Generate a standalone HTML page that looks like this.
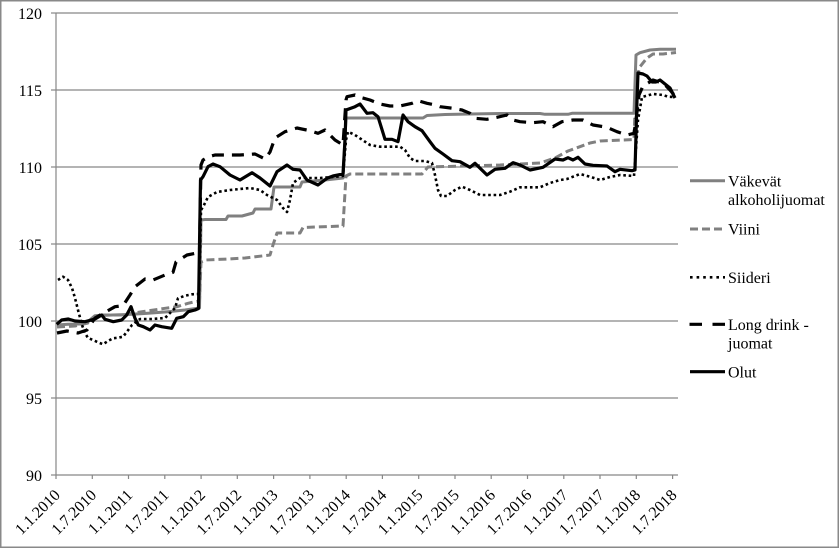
<!DOCTYPE html>
<html><head><meta charset="utf-8"><style>
html,body{margin:0;padding:0;background:#fff;}
svg{display:block;}
text{font-family:"Liberation Serif","Times New Roman",serif;font-size:16px;fill:#000;}
</style></head><body>
<svg width="840" height="549" viewBox="0 0 840 549" xmlns="http://www.w3.org/2000/svg">
<rect x="0" y="0" width="840" height="549" fill="#fff"/>
<rect x="0.75" y="0.75" width="837.5" height="546.5" fill="none" stroke="#898989" stroke-width="1.5"/>
<!-- grid -->
<g stroke="#878787" stroke-width="1.2" fill="none">
<line x1="56" y1="13" x2="678" y2="13"/>
<line x1="56" y1="90" x2="678" y2="90"/>
<line x1="56" y1="167" x2="678" y2="167"/>
<line x1="56" y1="244" x2="678" y2="244"/>
<line x1="56" y1="321" x2="678" y2="321"/>
<line x1="56" y1="398" x2="678" y2="398"/>
<line x1="56" y1="475" x2="678" y2="475"/>
<line x1="56" y1="13" x2="56" y2="475"/>
<line x1="51" y1="13" x2="56" y2="13"/>
<line x1="51" y1="90" x2="56" y2="90"/>
<line x1="51" y1="167" x2="56" y2="167"/>
<line x1="51" y1="244" x2="56" y2="244"/>
<line x1="51" y1="321" x2="56" y2="321"/>
<line x1="51" y1="398" x2="56" y2="398"/>
<line x1="51" y1="475" x2="56" y2="475"/>
<line x1="56" y1="475" x2="56" y2="479"/>
<line x1="92.3" y1="475" x2="92.3" y2="479"/>
<line x1="128.5" y1="475" x2="128.5" y2="479"/>
<line x1="164.8" y1="475" x2="164.8" y2="479"/>
<line x1="201.1" y1="475" x2="201.1" y2="479"/>
<line x1="237.3" y1="475" x2="237.3" y2="479"/>
<line x1="273.6" y1="475" x2="273.6" y2="479"/>
<line x1="309.9" y1="475" x2="309.9" y2="479"/>
<line x1="346.2" y1="475" x2="346.2" y2="479"/>
<line x1="382.4" y1="475" x2="382.4" y2="479"/>
<line x1="418.7" y1="475" x2="418.7" y2="479"/>
<line x1="455" y1="475" x2="455" y2="479"/>
<line x1="491.2" y1="475" x2="491.2" y2="479"/>
<line x1="527.5" y1="475" x2="527.5" y2="479"/>
<line x1="563.8" y1="475" x2="563.8" y2="479"/>
<line x1="600" y1="475" x2="600" y2="479"/>
<line x1="636.3" y1="475" x2="636.3" y2="479"/>
<line x1="672.6" y1="475" x2="672.6" y2="479"/>
</g>
<!-- y labels -->
<g text-anchor="end">
<text x="42" y="19">120</text>
<text x="42" y="96">115</text>
<text x="42" y="173">110</text>
<text x="42" y="250">105</text>
<text x="42" y="327">100</text>
<text x="42" y="404">95</text>
<text x="42" y="481">90</text>
</g>
<!-- x labels -->
<g text-anchor="end">
<text transform="translate(61,496) rotate(-45)">1.1.2010</text>
<text transform="translate(97.3,496) rotate(-45)">1.7.2010</text>
<text transform="translate(133.5,496) rotate(-45)">1.1.2011</text>
<text transform="translate(169.8,496) rotate(-45)">1.7.2011</text>
<text transform="translate(206.1,496) rotate(-45)">1.1.2012</text>
<text transform="translate(242.3,496) rotate(-45)">1.7.2012</text>
<text transform="translate(278.6,496) rotate(-45)">1.1.2013</text>
<text transform="translate(314.9,496) rotate(-45)">1.7.2013</text>
<text transform="translate(351.2,496) rotate(-45)">1.1.2014</text>
<text transform="translate(387.4,496) rotate(-45)">1.7.2014</text>
<text transform="translate(423.7,496) rotate(-45)">1.1.2015</text>
<text transform="translate(460,496) rotate(-45)">1.7.2015</text>
<text transform="translate(496.2,496) rotate(-45)">1.1.2016</text>
<text transform="translate(532.5,496) rotate(-45)">1.7.2016</text>
<text transform="translate(568.8,496) rotate(-45)">1.1.2017</text>
<text transform="translate(605,496) rotate(-45)">1.7.2017</text>
<text transform="translate(641.3,496) rotate(-45)">1.1.2018</text>
<text transform="translate(677.6,496) rotate(-45)">1.7.2018</text>
</g>
<!-- series -->
<g fill="none" stroke-linejoin="round">
<!-- Väkevät -->
<polyline stroke="#808080" stroke-width="3" points="57,325 68,324.3 80,324 88,321.7 95,315.7 112,315 132,314.3 148,313.3 168,311.7 185,310 197,308.3 199.5,308 201,220 205,219.5 226,219.5 228,216 242,216 253,213 255,209 271,209 274,187 300,187 302,182 325,180 343,178 346,118 423,118 427,115.5 445,114.5 470,114 500,113.5 540,113.5 545,114.3 568,114.3 572,113.3 634,113.3 636,55 640,52.7 650,50 660,49.3 676,49.3"/>
<!-- Viini -->
<polyline stroke="#808080" stroke-width="3" stroke-dasharray="8 4" points="57,327 75,326 88,323 98,315 122,315 142,311.7 165,308.3 177,306.7 188,303.3 195,301.7 199.5,301 201,262 205,260 228,259 245,258 270,255 273,245 277,233 300,233 303,227.5 343,226 346,176 350,174 422,174 428,167 500,165 540,163 555,158 568,151 590,143 600,141 634,139.5 636,80 640,66.7 646.7,58.3 653,54 663,54 676,52.5"/>
<!-- Siideri -->
<polyline stroke="#000" stroke-width="2.6" stroke-dasharray="2.6 2.8" points="58,280 63,276.7 68,280 72,288 75,298 78,310 82,325 85,333 88,338 93,340 98,342.3 103,344.3 108,341 113,338.3 118,337.7 123,336.7 127,331.7 132,325 140,319 152,319 165,318 175,308 178,298.3 185,295.7 192,294.3 199,294 201,210 203,207 208,197 217,192 230,190 250,188 260,190 267,195 277,200 283,208 287,212 290,200 293,183 300,178 320,178 333,177 343,176 346,140 348,131.7 355,135 370,145 380,146.7 400,146.7 405,150 410,158 415,161 425,161 432,163 435,175 438,190 441,196 447,196 455,190 462,186.7 470,190 480,195 500,195 510,191.7 520,187.3 540,187.3 550,183 560,180 567,179 580,174 590,176.7 600,180 610,177 620,175 634,176 638,120 642,97 653,94 663,95 668,96.7 675,97"/>
<!-- Long drink -->
<polyline stroke="#000" stroke-width="3.2" stroke-dasharray="12 8" points="57,333 67,331 78,333 87,330 95,318 102,314 115,306.7 123,305.7 130,295 135,286.7 145,279 153,280 165,275 173,272.3 176,262 187,255 197,253 199.5,252 201,165 203,160 208,157 215,155 240,155 255,154 265,159 270,152 275,138 285,131.7 297,128 310,130.7 318,133.3 325,130 335,140 343,145 346,100 347,96.7 355,95 360,97.3 370,100 380,104 390,106 400,106 412,103.3 418,100.7 427,103.3 435,105 440,106.7 453,108.3 462,110 470,113.3 475,118.3 487,119.3 497,117.3 507,115 513,120 520,121.7 533,122.7 543,121.7 553,126.7 562,121.7 573,120 583,120 593,125 607,127.3 617,131.7 627,135 634,133.3 636,120 639,95 643,86 648,83 653,80 658,81.7 663,82.7 670,90 675,96"/>
<!-- Olut -->
<polyline stroke="#000" stroke-width="3.2" points="56.7,324.3 61.7,320 68.3,319 75,321 85,321.7 95,319 101.7,315 105,319.3 113.3,321.7 121.7,320 126.7,315 131,306.7 135,318.3 138.3,325 143.3,326.7 150,330 155,325 161.7,326.7 171.7,328.3 176.7,318.3 183.3,316.7 188.3,311.7 195,310 198.5,308.5 200.5,180 203,176.7 208,166.7 213,164 220,166.7 230,175 240,180 252,172.7 260,178 270,186 277,171.7 287,165 293,169.3 300,170 307,180 318,185 327,178.3 333,176 343,174 345,140 346,110 355,106.7 360,104 367,113.3 373,112.7 378,116.7 385,139.3 392,139.3 398,141.7 403,115 408,121.7 415,126.7 422,130.7 430,141.7 435,148.3 443,154 452,160.7 460,161.7 470,167.3 475,163.3 487,175 495,169.3 505,168.3 513,162.7 520,165 530,170 543,167.3 555,159 563,160 568,157.7 573,160 578,157.3 585,164 593,165.3 607,166 615,171.7 620,169.3 632,170.7 635,170 637,100 638,73 643,74 647,76 652,82 656,82 660,80 665,84 670,88 675,98"/>
</g>
<!-- legend -->
<g fill="none">
<line x1="690" y1="180.7" x2="725" y2="180.7" stroke="#808080" stroke-width="3"/>
<line x1="690" y1="229" x2="725" y2="229" stroke="#808080" stroke-width="3" stroke-dasharray="8 4"/>
<line x1="690" y1="277.3" x2="725" y2="277.3" stroke="#000" stroke-width="2.6" stroke-dasharray="2.6 4"/>
<line x1="689.5" y1="324.3" x2="725" y2="324.3" stroke="#000" stroke-width="3.2" stroke-dasharray="12.5 10.5"/>
<line x1="690" y1="371.7" x2="725" y2="371.7" stroke="#000" stroke-width="3.2"/>
</g>
<text x="728" y="186.5">Väkevät</text>
<text x="728" y="205">alkoholijuomat</text>
<text x="728" y="234.7">Viini</text>
<text x="728" y="283">Siideri</text>
<text x="728" y="330">Long drink -</text>
<text x="728" y="348.5">juomat</text>
<text x="728" y="377.3">Olut</text>
</svg>
</body></html>
